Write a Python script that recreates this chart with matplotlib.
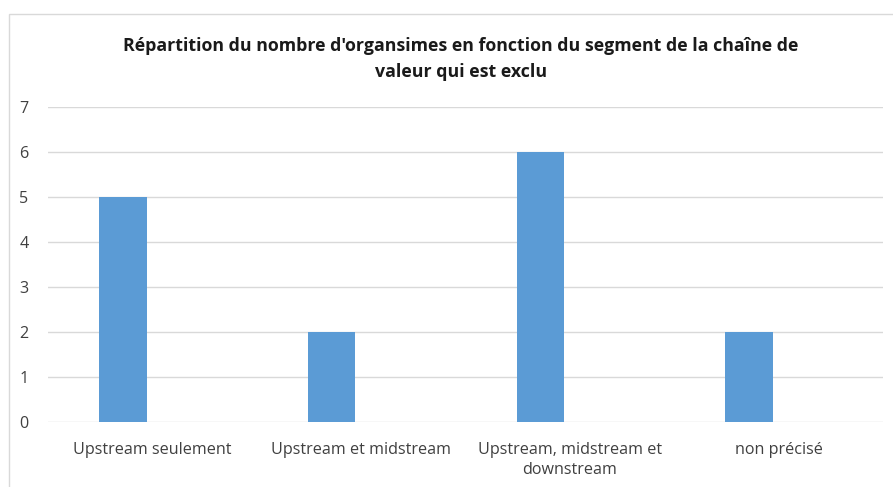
import matplotlib
import matplotlib.pyplot as plt
from matplotlib.patches import Rectangle
import numpy as np

plt.switch_backend('agg')

# data
categories = ['Upstream seulement', 'Upstream et midstream',
              'Upstream, midstream et\ndownstream', 'non précisé']
values = [5, 2, 6, 2]
yticks = [0, 1, 2, 3, 4, 5, 6, 7]
title = ("Répartition du nombre d'organsimes en fonction du segment de la chaîne de\n"
         "valeur qui est exclu")

plt.rcParams['font.family'] = ['Open Sans', 'DejaVu Sans']

fig = plt.figure(figsize=(8.93, 4.87), dpi=100)
ax = fig.add_axes([48/893, 1-422.3/487, 835/893, (422.3-106.6)/487])

x = np.arange(len(categories))
ax.bar(x - 0.141, values, width=0.227, color='#5B9BD5', zorder=3)

ax.set_xlim(-0.5, len(categories) - 0.5)
ax.set_ylim(0, 7)
ax.set_yticks(yticks)
ax.set_xticks(x)
ax.set_xticklabels(categories, fontsize=11.6, color='#404040', linespacing=1.35)
ax.tick_params(axis='y', labelsize=11.6, labelcolor='#404040', length=0, pad=14)
ax.tick_params(axis='x', length=0, pad=14)
ax.grid(axis='y', color='#D9D9D9', linewidth=1.0, zorder=0)
for s in ax.spines.values():
    s.set_visible(False)

fig.text(0.516, 1-59/487, title, ha='center', va='center', fontsize=12.8,
         fontweight='bold', color='#1a1a1a', linespacing=1.55)

# outer chart border (cut by the image edge)
fig.patches.append(Rectangle((8.5/893, -0.2), 2, 1.2 - 13.5/487,
                             transform=fig.transFigure, fill=False,
                             edgecolor='#D9D9D9', linewidth=1.0))

plt.savefig('out.png', dpi=100)
